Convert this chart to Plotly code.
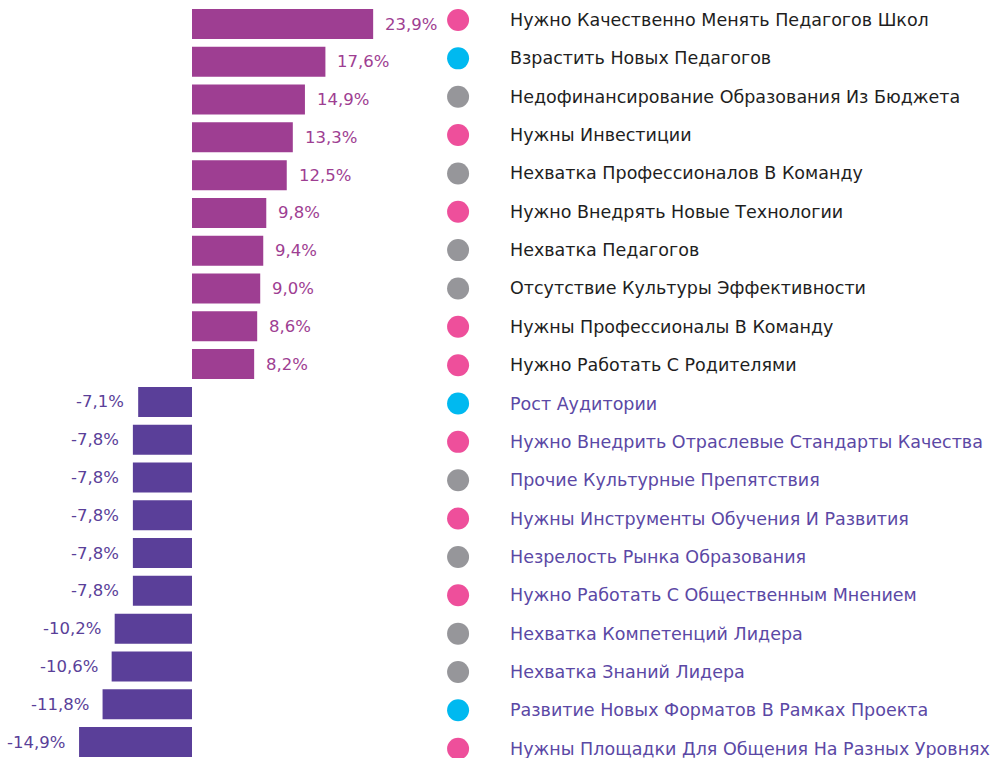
import plotly.graph_objects as go

categories = [
    "Нужно Качественно Менять Педагогов Школ",
    "Взрастить Новых Педагогов",
    "Недофинансирование Образования Из Бюджета",
    "Нужны Инвестиции",
    "Нехватка Профессионалов В Команду",
    "Нужно Внедрять Новые Технологии",
    "Нехватка Педагогов",
    "Отсутствие Культуры Эффективности",
    "Нужны Профессионалы В Команду",
    "Нужно Работать С Родителями",
    "Рост Аудитории",
    "Нужно Внедрить Отраслевые Стандарты Качества",
    "Прочие Культурные Препятствия",
    "Нужны Инструменты Обучения И Развития",
    "Незрелость Рынка Образования",
    "Нужно Работать С Общественным Мнением",
    "Нехватка Компетенций Лидера",
    "Нехватка Знаний Лидера",
    "Развитие Новых Форматов В Рамках Проекта",
    "Нужны Площадки Для Общения На Разных Уровнях",
]
values = [23.9, 17.6, 14.9, 13.3, 12.5, 9.8, 9.4, 9.0, 8.6, 8.2,
          -7.1, -7.8, -7.8, -7.8, -7.8, -7.8, -10.2, -10.6, -11.8, -14.9]
dot_kind = ["pink", "cyan", "gray", "pink", "gray", "pink", "gray", "gray", "pink", "pink",
            "cyan", "pink", "gray", "pink", "gray", "pink", "gray", "gray", "cyan", "pink"]

DOT_COLORS = {"pink": "#EE4F9B", "cyan": "#00B9F0", "gray": "#96969A"}
POS_BAR = "#9E3E92"
NEG_BAR = "#5A3F99"
POS_TEXT = "#1E1E1E"
NEG_TEXT = "#5B48A5"
FONT = "DejaVu Sans"

bar_colors = [POS_BAR if v >= 0 else NEG_BAR for v in values]
labels = [f"{v:.1f}".replace(".", ",") + "%" for v in values]

fig = go.Figure()
fig.add_trace(go.Bar(
    y=categories, x=values, orientation="h",
    marker=dict(color=bar_colors, line=dict(width=0)),
    cliponaxis=False, width=0.794, hoverinfo="skip",
))
# bar value labels
for c, v, lab, col in zip(categories, values, labels, bar_colors):
    fig.add_annotation(
        x=v, xref="x", y=c, yref="y", text=lab, showarrow=False,
        xanchor="left" if v >= 0 else "right", yanchor="middle",
        xshift=10 if v >= 0 else -12,
        font=dict(size=16.5, family=FONT, color=col),
    )
# legend-like column: dots + category text
fig.add_trace(go.Scatter(
    y=categories, x=[0.459] * len(categories), xaxis="x2", yaxis="y2", mode="markers",
    marker=dict(size=22, color=[DOT_COLORS[k] for k in dot_kind], line=dict(width=0)),
    hoverinfo="skip",
))
for i, c in enumerate(categories):
    fig.add_annotation(
        x=0.509, xref="x2", y=c, yref="y2", text=c, showarrow=False,
        xanchor="left", yanchor="middle",
        font=dict(size=17.5, family=FONT, color=POS_TEXT if values[i] >= 0 else NEG_TEXT),
    )

px_per_unit = 7.58
fig.update_layout(
    width=998, height=758, margin=dict(l=0, r=0, t=0, b=0),
    paper_bgcolor="white", plot_bgcolor="white", showlegend=False,
    xaxis=dict(range=[-192 / px_per_unit, (998 - 192) / px_per_unit], visible=False, fixedrange=True),
    xaxis2=dict(range=[0, 1], overlaying="x", visible=False),
    yaxis=dict(range=[19.423, -0.635], visible=False, type="category"),
    yaxis2=dict(range=[19.243, -0.5215], overlaying="y", visible=False, type="category"),
    font=dict(family=FONT),
)
fig.write_html("out.html", config={"displayModeBar": False},
               post_script="document.body.style.margin='0';")
